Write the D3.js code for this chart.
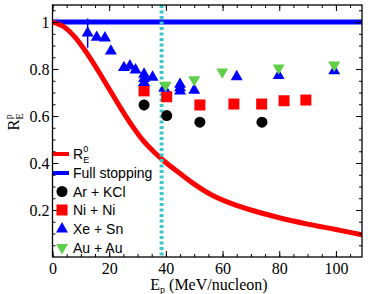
<!DOCTYPE html>
<html><head><meta charset="utf-8">
<script src="https://cdn.jsdelivr.net/npm/d3@7"></script>
<style>body{margin:0;background:#fff}svg{display:block}</style>
</head><body>
<svg id="c" width="368" height="294"></svg>
<script>
// ---- data ----
const curveE = [0, 4, 8, 12, 16, 20, 24, 28, 32, 36, 40, 45, 50, 56, 63, 70, 80, 90, 100, 109.2];
const curveR = [1.0, 0.98, 0.935, 0.87, 0.795, 0.715, 0.635, 0.56, 0.495, 0.445, 0.402, 0.355, 0.31, 0.265, 0.228, 0.2, 0.167, 0.14, 0.117, 0.094];
const fullE = [0, 109.2];
const fullR = [1, 1];
const arE = [32.3, 40.3, 52, 73.9];
const arR = [0.647, 0.602, 0.574, 0.574];
const arErr = [0.022, 0.02, 0.012, 0.008];
const niE = [32.3, 40.3, 52, 64, 73.8, 81.7, 89.4];
const niR = [0.707, 0.682, 0.647, 0.651, 0.651, 0.665, 0.668];
const niErr = [0, 0, 0, 0, 0.012, 0.012, 0];
const xeE = [12.4, 15.6, 18.5, 20.6, 25.2, 27.3, 29.3, 32.3, 32.3, 32.3, 35.3, 39.4, 45, 45, 45, 50, 65, 79.8, 99.4];
const xeR = [0.953, 0.935, 0.932, 0.876, 0.806, 0.813, 0.796, 0.778, 0.76, 0.742, 0.765, 0.718, 0.735, 0.72, 0.706, 0.71, 0.767, 0.772, 0.792];
const xeErr = [0.062, 0, 0, 0, 0, 0, 0, 0, 0, 0, 0, 0, 0, 0, 0, 0, 0, 0, 0];
const auE = [39.9, 50, 59.9, 79.8, 99.4];
const auR = [0.731, 0.755, 0.788, 0.805, 0.817];
const vLineE = 38.5;
const xTicks = [0, 20, 40, 60, 80, 100];
const yTicks = [0.2, 0.4, 0.6, 0.8, 1];
const legendLabels = ["Full stopping", "Ar + KCl", "Ni + Ni", "Xe + Sn", "Au + Au"];

// ---- layout ----
const svg = d3.select("#c");
const L = 52.5, R = 362, T = 5, B = 257;
const x = d3.scaleLinear().domain([0, 109.2]).range([L, R]);
const y = d3.scaleLinear().domain([0, 1.0725]).range([B, T]);
const SERIF = "Liberation Serif", SANS = "Liberation Sans";
const BLUE = "#0000ff", RED = "#ff0000", GREEN = "#5fcf4a", CYAN = "#3cc8c8";

svg.append("defs").append("clipPath").attr("id","clip")
  .append("rect").attr("x",L).attr("y",T).attr("width",R-L).attr("height",B-T);
const plot = svg.append("g").attr("clip-path","url(#clip)");

const line = d3.line().x(d=>x(d[0])).y(d=>y(d[1]));
plot.append("path").datum(fullE.map((e,i)=>[e,fullR[i]]))
  .attr("d", line).attr("fill","none").attr("stroke",BLUE).attr("stroke-width",5);
plot.append("path").datum(curveE.map((e,i)=>[e,curveR[i]]))
  .attr("d", line.curve(d3.curveCatmullRom)).attr("fill","none").attr("stroke",RED).attr("stroke-width",5);

plot.append("line").attr("x1",x(vLineE)).attr("x2",x(vLineE)).attr("y1",T).attr("y2",B)
  .attr("stroke",CYAN).attr("stroke-width",4).attr("stroke-dasharray","3,2.5");

function errs(E, Rv, Er, col){
  plot.append("g").selectAll("line").data(E.map((e,i)=>[e,Rv[i],Er[i]]).filter(d=>d[2]>0))
    .join("line").attr("x1",d=>x(d[0])).attr("x2",d=>x(d[0]))
    .attr("y1",d=>y(d[1]-d[2])).attr("y2",d=>y(d[1]+d[2]))
    .attr("stroke",col).attr("stroke-width",1.5);
}
errs(xeE, xeR, xeErr, BLUE);
errs(arE, arR, arErr, "#000");
errs(niE, niR, niErr, RED);

const triUp = d3.symbol().type(d3.symbolTriangle).size(62);
function tri(g, cx, cy, col, down){
  g.append("path").attr("d", triUp()).attr("fill",col)
   .attr("transform",`translate(${cx},${cy})${down?" rotate(180)":""}`);
}
plot.append("g").selectAll("rect").data(niE.map((e,i)=>[e,niR[i]])).join("rect")
  .attr("x",d=>x(d[0])-5.5).attr("y",d=>y(d[1])-5.5).attr("width",11).attr("height",11).attr("fill",RED);
plot.append("g").selectAll("circle").data(arE.map((e,i)=>[e,arR[i]])).join("circle")
  .attr("cx",d=>x(d[0])).attr("cy",d=>y(d[1])).attr("r",5.5).attr("fill","#000");
const gx = plot.append("g");
xeE.forEach((e,i)=>tri(gx, x(e), y(xeR[i]), BLUE, false));
const ga = plot.append("g");
auE.forEach((e,i)=>tri(ga, x(e), y(auR[i]), GREEN, true));

svg.append("rect").attr("x",L).attr("y",T).attr("width",R-L).attr("height",B-T)
  .attr("fill","none").attr("stroke","#000").attr("stroke-width",1.3);

const xMinor = d3.range(0, 110, 5);
const yMinor = d3.range(0.05, 1.07, 0.05);
function styleAxis(g){ g.select(".domain").remove(); g.selectAll("line").attr("stroke","#000").attr("stroke-width",1); g.attr("font-family",null).attr("font-size",null); }
function styleText(g){ g.selectAll("text").style("font-family",SERIF).style("font-size","16px").attr("fill","#000"); }
svg.append("g").attr("transform",`translate(0,${B})`)
  .call(d3.axisBottom(x).tickValues(xMinor).tickSize(-3).tickFormat("")).call(styleAxis);
svg.append("g").attr("transform",`translate(0,${B})`)
  .call(d3.axisBottom(x).tickValues(xTicks).tickSize(-6).tickPadding(6).tickFormat(d3.format("d"))).call(styleAxis).call(styleText);
svg.append("g").attr("transform",`translate(0,${T})`)
  .call(d3.axisTop(x).tickValues(xMinor).tickSize(-3).tickFormat("")).call(styleAxis);
svg.append("g").attr("transform",`translate(0,${T})`)
  .call(d3.axisTop(x).tickValues(xTicks).tickSize(-6).tickFormat("")).call(styleAxis);
svg.append("g").attr("transform",`translate(${L},0)`)
  .call(d3.axisLeft(y).tickValues(yMinor).tickSize(-3).tickFormat("")).call(styleAxis);
svg.append("g").attr("transform",`translate(${L},0)`)
  .call(d3.axisLeft(y).tickValues(yTicks).tickSize(-6).tickPadding(3).tickFormat(d=>d===1?"1":d3.format(".1f")(d))).call(styleAxis).call(styleText);
svg.append("g").attr("transform",`translate(${R},0)`)
  .call(d3.axisRight(y).tickValues(yMinor).tickSize(-3).tickFormat("")).call(styleAxis);
svg.append("g").attr("transform",`translate(${R},0)`)
  .call(d3.axisRight(y).tickValues(yTicks).tickSize(-6).tickFormat("")).call(styleAxis);

const xt = svg.append("text").attr("x",209).attr("y",290).attr("text-anchor","middle")
  .style("font-family",SERIF).style("font-size","16px").attr("fill","#000");
xt.append("tspan").text("E");
xt.append("tspan").style("font-size","10px").attr("dy",3).text("p");
xt.append("tspan").attr("dy",-3).text(" (MeV/nucleon)");
const yt = svg.append("text").attr("transform","translate(19,122) rotate(-90)").attr("text-anchor","middle")
  .style("font-family",SERIF).style("font-size","17px").attr("fill","#000");
yt.append("tspan").text("R");
yt.append("tspan").style("font-size","10px").attr("dy",4).text("E");
yt.append("tspan").style("font-size","10px").attr("dx",-6).attr("dy",-11).text("p");

const lg = svg.append("g");
const lx0 = 53, lx1 = 69, mx = 62, tx = 73;
const rows = [154, 173, 191.5, 210, 229, 247.5];
lg.append("line").attr("x1",lx0).attr("x2",lx1).attr("y1",rows[0]).attr("y2",rows[0]).attr("stroke",RED).attr("stroke-width",4);
lg.append("line").attr("x1",lx0).attr("x2",lx1).attr("y1",rows[1]).attr("y2",rows[1]).attr("stroke",BLUE).attr("stroke-width",4);
lg.append("circle").attr("cx",mx).attr("cy",rows[2]).attr("r",5.5).attr("fill","#000");
lg.append("rect").attr("x",mx-5.5).attr("y",rows[3]-5.5).attr("width",11).attr("height",11).attr("fill",RED);
tri(lg, mx, rows[4], BLUE, false);
tri(lg, mx, rows[5], GREEN, true);
const r0 = lg.append("text").attr("x",tx).attr("y",rows[0]+5).style("font-family",SANS).style("font-size","14px").attr("fill","#000");
r0.append("tspan").text("R");
r0.append("tspan").style("font-size","9px").attr("dy",4).text("E");
r0.append("tspan").style("font-size","9px").attr("dx",-6).attr("dy",-11).text("0");
legendLabels.forEach((t,i)=>{
  lg.append("text").attr("x",tx).attr("y",rows[i+1]+5).style("font-family",SANS).style("font-size","14px").attr("fill","#000").text(t);
});
</script>
</body></html>
